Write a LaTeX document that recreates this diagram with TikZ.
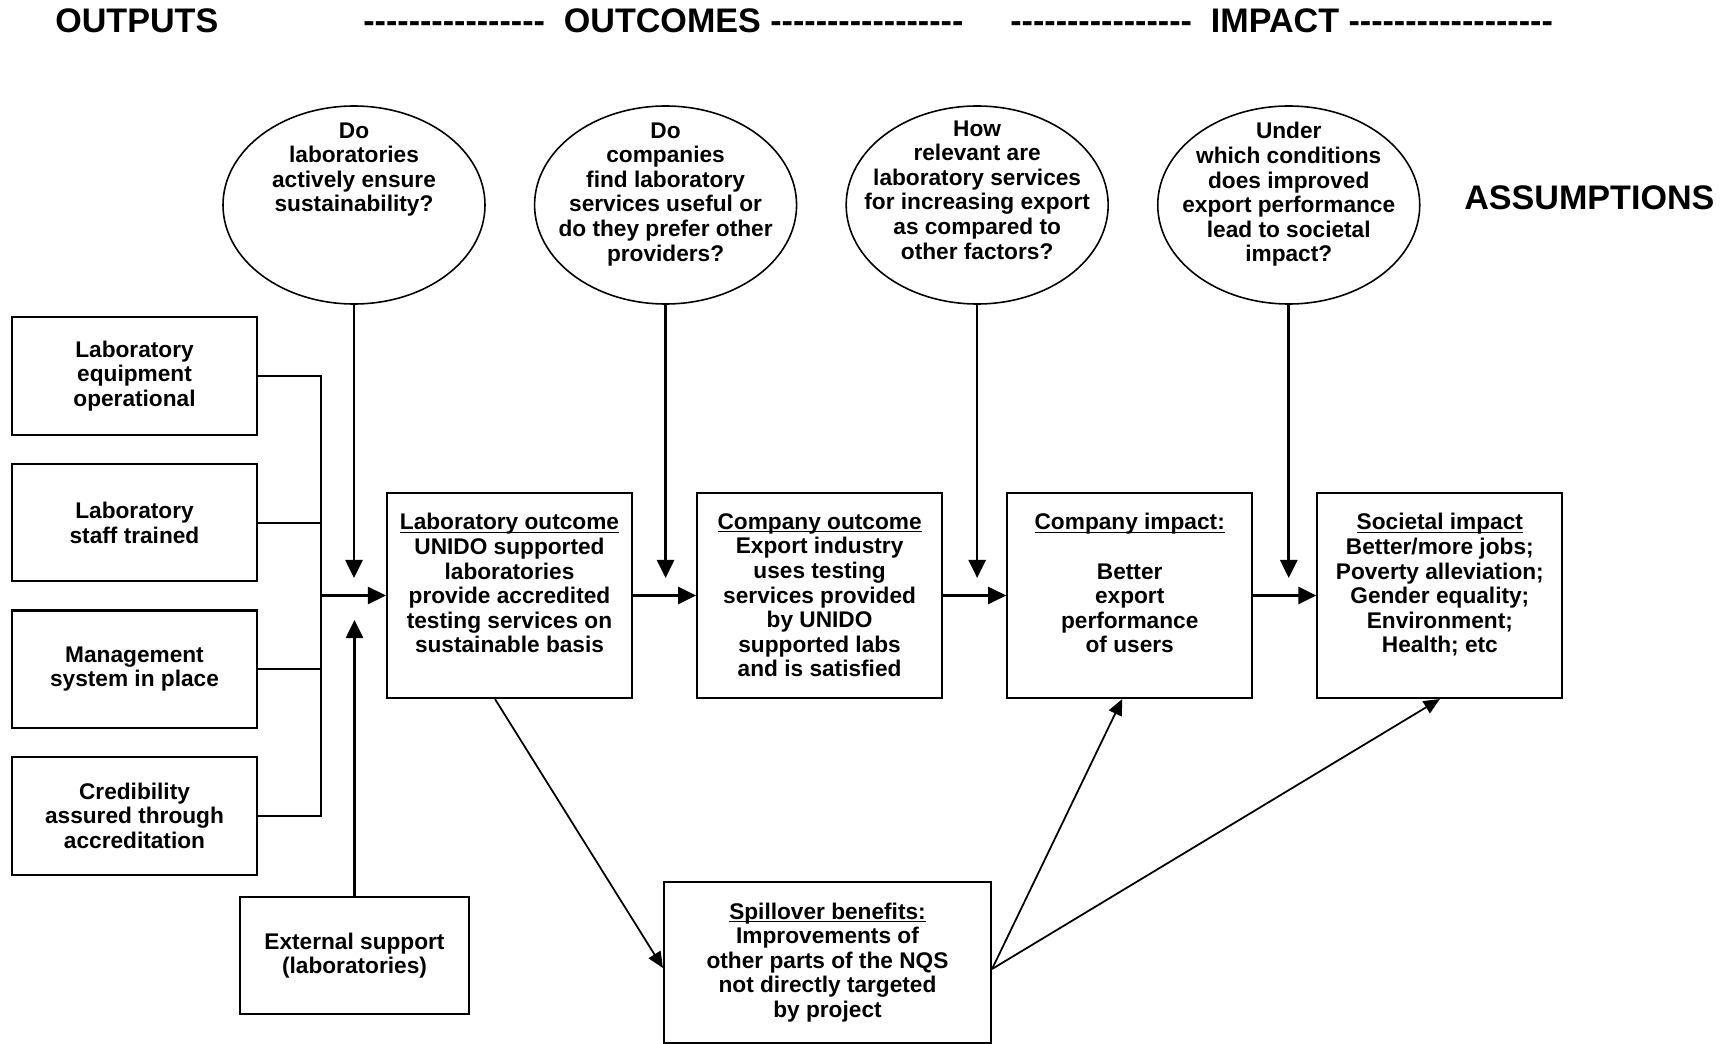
\documentclass[tikz,border=0pt]{standalone}
\usepackage{fontspec}
\setmainfont{Liberation Sans}
\usepackage{tikz}
\usetikzlibrary{positioning, shapes.geometric, arrows.meta, calc}

\newcommand{\dashrun}[1]{\foreach \k in {1,...,#1}{\hbox{-}}}
\newcommand{\ulabel}[1]{\leavevmode\setbox0=\hbox{#1}\rlap{\rule[-1.7pt]{\wd0}{0.7pt}}\box0}
\newcommand{\toptext}[1]{\parbox[t][3.46cm][t]{4.6cm}{\vspace*{0.09cm}\centering #1}}

\begin{document}
\begin{tikzpicture}[
        node distance=0.54cm and 1.26cm,
        outbox/.style={rectangle, draw, line width=1.2pt, minimum width=4.9cm,
                       minimum height=2.35cm, align=center,
                       font=\bfseries\fontsize{12.9}{14}\selectfont},
        resbox/.style={rectangle, draw, line width=1.2pt, minimum width=4.9cm,
                       minimum height=4.1cm, inner sep=0pt,
                       font=\bfseries\fontsize{12.9}{14}\selectfont},
        question/.style={ellipse, draw, line width=0.9pt, minimum width=5.24cm,
                         minimum height=3.96cm, inner sep=0pt},
        qtext/.style={align=center, inner sep=0pt,
                      font=\bfseries\fontsize{12.9}{14}\selectfont},
        heading/.style={anchor=west, inner sep=0pt,
                        font=\bfseries\fontsize{19.4}{22}\selectfont},
        link/.style={line width=1.1pt},
        arrow/.style={-{Triangle[length=0.36cm, width=0.34cm]}, line width=1.5pt},
        darrow/.style={-{Triangle[length=0.32cm, width=0.28cm]}, line width=1pt}
    ]
    \useasboundingbox (0,0) rectangle (34.52,-20.88);

    %% HEADINGS
    \node[heading] (outputs) at (1.10,-0.42) {OUTPUTS};
    \node[heading] (outcomes) at (7.26,-0.42) {\dashrun{16}\ \ OUTCOMES \dashrun{17}};
    \node[heading] (impact) at (20.20,-0.42) {\dashrun{16}\ \ IMPACT \dashrun{18}};
    \node[heading] (assump) at (29.28,-3.96) {ASSUMPTIONS};

    %% OUTPUTS
    \node[outbox] (equip) at (2.69,-7.52) {Laboratory\\equipment\\operational};
    \node[outbox, below=of equip] (staff) {Laboratory\\staff trained};
    \node[outbox, below=of staff] (mgmt)  {Management\\system in place};
    \node[outbox, below=of mgmt]  (cred)  {Credibility\\assured through\\accreditation};

    \node[outbox, minimum width=4.58cm] (ext) at (7.09,-19.11)
          {External support\\(laboratories)};

    %% OUTCOMES AND IMPACT
    \node[resbox] (lab) at (10.19,-11.91)
          {\toptext{\ulabel{Laboratory outcome}\\UNIDO supported\\laboratories\\
           provide accredited\\testing services on\\sustainable basis}};
    \node[resbox, right=of lab] (comp)
          {\toptext{\ulabel{Company outcome}\\Export industry\\uses testing\\
           services provided\\by UNIDO\\supported labs\\and is satisfied}};
    \node[resbox, right=of comp] (cimp)
          {\toptext{\ulabel{Company impact:}\\[14pt]Better\\export\\
           performance\\of users}};
    \node[resbox, right=of cimp] (soc)
          {\toptext{\ulabel{Societal impact}\\Better/more jobs;\\Poverty alleviation;\\
           Gender equality;\\Environment;\\Health; etc}};

    \node[outbox, minimum width=6.54cm, minimum height=3.22cm]
          (spill) at (16.55,-19.25)
          {\ulabel{Spillover benefits:}\\Improvements of\\other parts of the NQS\\
           not directly targeted\\by project};

    %% ASSUMPTIONS
    \node[question] (q1) at (7.08,-4.10) {};
    \node[question, right=0.96cm of q1] (q2) {};
    \node[question, right=0.96cm of q2] (q3) {};
    \node[question, right=0.96cm of q3] (q4) {};

    \node[qtext, below=0.34cm of q1.north] (q1txt)
          {Do\\laboratories\\actively ensure\\sustainability?};
    \node[qtext, below=0.34cm of q2.north] (q2txt)
          {Do\\companies\\find laboratory\\services useful or\\do they prefer other\\providers?};
    \node[qtext, below=0.30cm of q3.north] (q3txt)
          {How\\relevant are\\laboratory services\\for increasing export\\as compared to\\other factors?};
    \node[qtext, below=0.34cm of q4.north] (q4txt)
          {Under\\which conditions\\does improved\\export performance\\lead to societal\\impact?};

    %% CONNECTORS
    \coordinate (bus) at ($(lab.west)+(-1.30,0)$);
    \draw[link] (equip) -| (bus);
    \draw[link] (staff) -| (bus);
    \draw[link] (mgmt)  -| (bus);
    \draw[link] (cred)  -| (bus);
    \draw[arrow] (bus) -- (lab);

    \draw[arrow] (lab)  -- (comp);
    \draw[arrow] (comp) -- (cimp);
    \draw[arrow] (cimp) -- (soc);

    \coordinate (q1end) at ($(q1.south |- lab.west)+(0,0.35)$);
    \coordinate (q2end) at ($(q2.south |- lab.west)+(0,0.35)$);
    \coordinate (q3end) at ($(q3.south |- lab.west)+(0,0.35)$);
    \coordinate (q4end) at ($(q4.south |- lab.west)+(0,0.35)$);
    \draw[arrow] (q1) -- (q1end);
    \draw[arrow] (q2) -- (q2end);
    \draw[arrow] (q3) -- (q3end);
    \draw[arrow] (q4) -- (q4end);

    \coordinate (extend) at ($(ext.north |- lab.west)+(0,-0.49)$);
    \draw[arrow] (ext) -- (extend);

    \draw[darrow] ([xshift=-0.29cm]lab.south) -- ([yshift=-0.11cm]spill.west);
    \draw[darrow] ([yshift=-0.13cm]spill.east) -- ([xshift=-0.15cm]cimp.south);
    \draw[darrow] ([yshift=-0.13cm]spill.east) -- (soc.south);

\end{tikzpicture}
\end{document}
